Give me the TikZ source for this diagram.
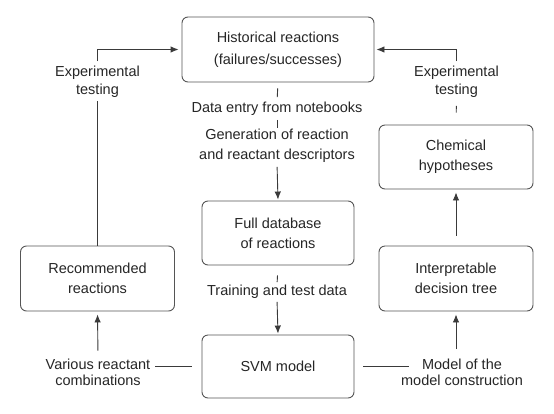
\documentclass[tikz,border=0pt]{standalone}
\usepackage{fontspec}
\setmainfont{Liberation Sans}
\usetikzlibrary{arrows.meta}
\definecolor{txt}{HTML}{262626}
\definecolor{ln}{HTML}{3A3A3A}
\definecolor{bx}{HTML}{555555}
\begin{document}
\begin{tikzpicture}[x=1pt,y=-1pt,
  box/.style={draw=bx,line width=0.9pt,rounded corners=6pt,rectangle,
    align=center,text=txt,inner sep=0pt,font=\fontsize{14.5}{20}\selectfont},
  lbl/.style={align=center,text=txt,inner sep=0pt,font=\fontsize{14.5}{20}\selectfont},
  conn/.style={draw=ln,line width=0.9pt},
  arr/.style={draw=ln,line width=0.9pt,-{Latex[length=8pt,width=6.5pt]}}]
\useasboundingbox[fill=white] (0,0) rectangle (554,413);
% boxes
\node[box,minimum width=192,minimum height=65] (top) at (278,49.5) {Historical reactions\\[2pt](failures/successes)};
\node[box,minimum width=152,minimum height=64] (fulldb) at (278,233) {Full database\\of reactions};
\node[box,minimum width=152,minimum height=63] (svm) at (278,366.5) {SVM model};
\node[box,minimum width=154,minimum height=65] (rec) at (97.5,278.5) {Recommended\\reactions};
\node[box,minimum width=154,minimum height=65] (interp) at (456,278.5) {Interpretable\\decision tree};
\node[box,minimum width=154,minimum height=64] (chem) at (456,157) {Chemical\\hypotheses};
% labels
\node[lbl] (dataentry) at (277,109) {Data entry from notebooks};
\node[lbl] (gen) at (277,146) {Generation of reaction\\and reactant descriptors};
\node[lbl] (train) at (277,292) {Training and test data};
\node[lbl,font=\fontsize{14.5}{18}\selectfont] (exL) at (97.5,82) {Experimental\\testing};
\node[lbl,font=\fontsize{14.5}{18}\selectfont] (exR) at (456.5,82) {Experimental\\testing};
\node[lbl,font=\fontsize{14.5}{16.5}\selectfont] (various) at (98,372.5) {Various reactant\\combinations};
\node[lbl,font=\fontsize{14.5}{16.5}\selectfont] (modelof) at (462,372.5) {Model of the\\model construction};
\coordinate (vend) at (155,366.5);
\coordinate (mend) at (409,366.5);
% central connectors
\draw[conn,shorten <=6pt,shorten >=5pt] (top.south) -- (dataentry.north);
\draw[conn,shorten <=4pt,shorten >=1.5pt] (dataentry.south) -- (gen.north);
\draw[arr,shorten <=4pt,shorten >=1pt] (gen.south) -- (fulldb.north);
\draw[conn,shorten <=10pt,shorten >=3pt] (fulldb.south) -- (train.north);
\draw[arr,shorten <=3pt,shorten >=1pt] (train.south) -- (svm.north);
% left loop
\draw[conn,shorten >=3pt] (rec.north) -- (exL.south);
\draw[arr,shorten <=5pt,shorten >=3pt] (exL.north) |- (top.west);
\draw[arr,shorten <=8pt,shorten >=3pt] (various.north) -- (rec.south);
\draw[conn,shorten >=10pt] (vend) -- (svm.west);
% right loop
\draw[conn,shorten <=12pt,shorten >=8pt] (chem.north) -- (exR.south);
\draw[arr,shorten <=5pt,shorten >=2pt] (exR.north) |- (top.east);
\draw[arr,shorten <=10pt,shorten >=3pt] (interp.north) -- (chem.south);
\draw[arr,shorten <=9.5pt,shorten >=3pt] (interp.south |- modelof.north) -- (interp.south);
\draw[conn,shorten <=9pt] (svm.east) -- (mend);
\end{tikzpicture}
\end{document}
